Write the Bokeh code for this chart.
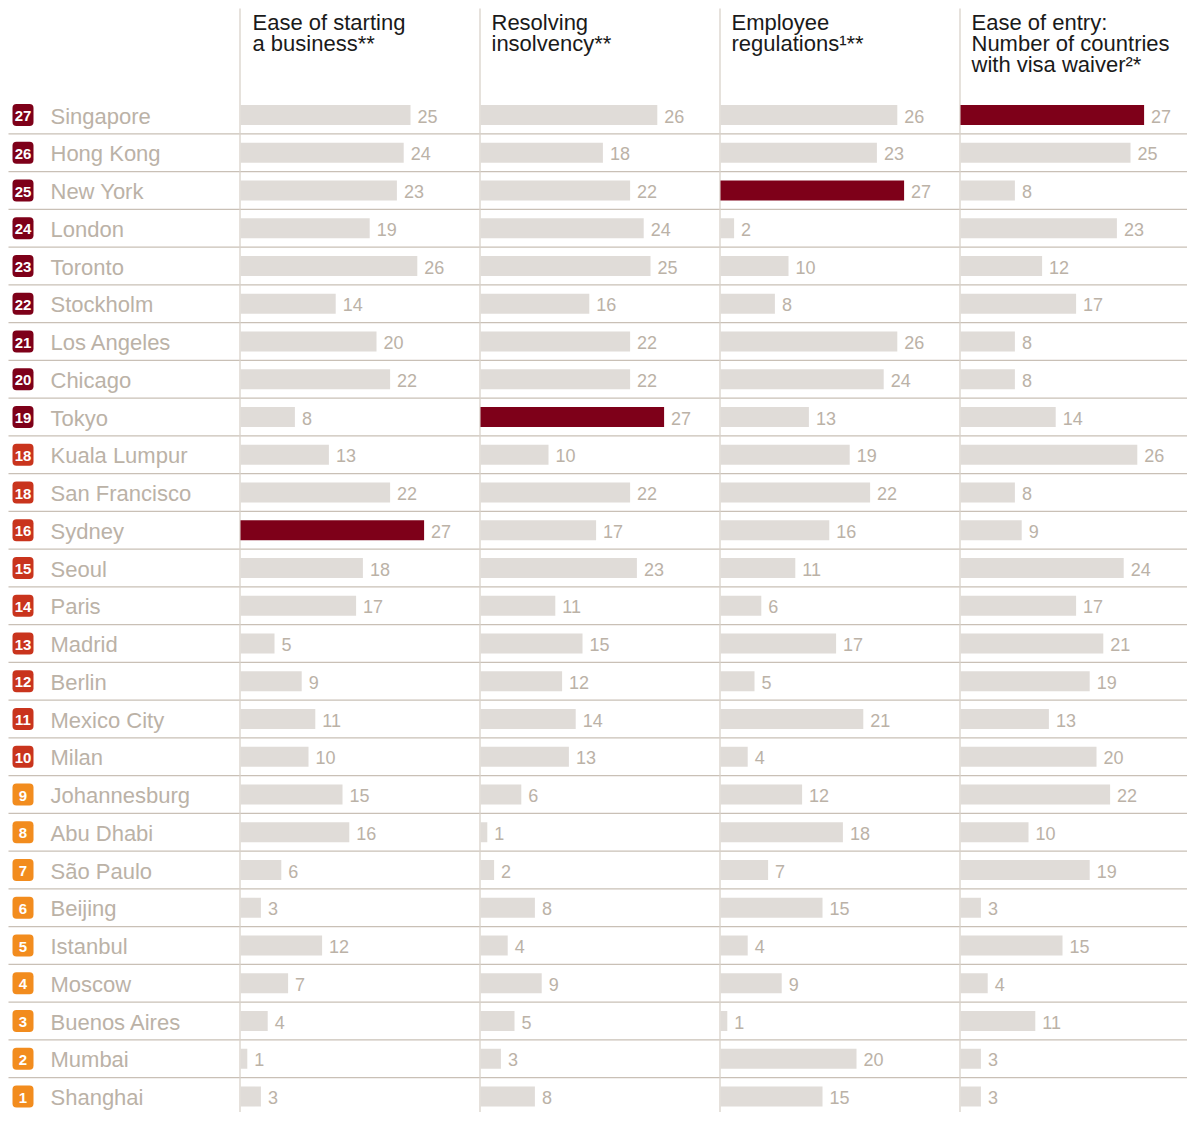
from bokeh.plotting import figure
from bokeh.models import Range1d, BoxAnnotation
from bokeh.embed import file_html
from bokeh.resources import INLINE
from bokeh.core.properties import value

cities = ["Singapore", "Hong Kong", "New York", "London", "Toronto", "Stockholm",
          "Los Angeles", "Chicago", "Tokyo", "Kuala Lumpur", "San Francisco", "Sydney",
          "Seoul", "Paris", "Madrid", "Berlin", "Mexico City", "Milan", "Johannesburg",
          "Abu Dhabi", "São Paulo", "Beijing", "Istanbul", "Moscow", "Buenos Aires",
          "Mumbai", "Shanghai"]
ranks = [27, 26, 25, 24, 23, 22, 21, 20, 19, 18, 18, 16, 15, 14, 13, 12, 11, 10,
         9, 8, 7, 6, 5, 4, 3, 2, 1]
starting_business = [25, 24, 23, 19, 26, 14, 20, 22, 8, 13, 22, 27, 18, 17, 5, 9, 11, 10,
                     15, 16, 6, 3, 12, 7, 4, 1, 3]
resolving_insolvency = [26, 18, 22, 24, 25, 16, 22, 22, 27, 10, 22, 17, 23, 11, 15, 12, 14, 13,
                        6, 1, 2, 8, 4, 9, 5, 3, 8]
employee_regulations = [26, 23, 27, 2, 10, 8, 26, 24, 13, 19, 22, 16, 11, 6, 17, 5, 21, 4,
                        12, 18, 7, 15, 4, 9, 1, 20, 15]
visa_waiver = [27, 25, 8, 23, 12, 17, 8, 8, 14, 26, 8, 9, 24, 17, 21, 19, 13, 20,
               22, 10, 19, 3, 15, 4, 11, 3, 3]
headers = [["Ease of starting", "a business**"],
           ["Resolving", "insolvency**"],
           ["Employee", "regulations\u00b9**"],
           ["Ease of entry:", "Number of countries", "with visa waiver\u00b2*"]]
series = [starting_business, resolving_insolvency, employee_regulations, visa_waiver]

# ---- layout / style ----
W, H = 1187, 1112
ROW0, ROW_H = 114.5, 37.75
COL0, COL_W, PX_PER = 240.0, 240.0, 6.8
FONT = value("Liberation Sans")
BAR = "#e0dcd8"
HIGHLIGHT = "#7e0019"
GRID_H = "#c9c0b6"
GRID_V = "#d9d2ca"
TXT = "#bbb2a7"


def badge_color(r):
    if r >= 19:
        return "#7e0019"
    if r >= 10:
        return "#c9341d"
    return "#f28c1e"


p = figure(width=W, height=H, x_range=Range1d(0, W), y_range=Range1d(H, 0),
           output_backend="svg", toolbar_location=None, min_border=0,
           x_axis_type=None, y_axis_type=None)
p.grid.visible = False
p.outline_line_color = None
p.background_fill_color = "white"

p.extra_y_ranges = {"rows": Range1d(start=(H - ROW0) / ROW_H, end=-ROW0 / ROW_H)}
p.extra_x_ranges = {}
for j in range(4):
    x0 = COL0 + j * COL_W
    p.extra_x_ranges[f"c{j}"] = Range1d(start=-x0 / PX_PER, end=(W - x0) / PX_PER)

n = len(cities)
rows = list(range(n))

# horizontal row separators
seps = [i + 0.5 for i in range(n - 1)]
p.segment(x0=[8] * len(seps), x1=[W] * len(seps), y0=seps, y1=seps,
          line_color=GRID_H, line_width=1.3, y_range_name="rows")

# vertical column separators
vx = [COL0 - 0.5 + j * COL_W for j in range(4)]
p.segment(x0=vx, x1=vx, y0=[8] * 4, y1=[H] * 4, line_color=GRID_V, line_width=1.3)

# bars + values
for j, vals in enumerate(series):
    mx = max(vals)
    cols = [HIGHLIGHT if v == mx else BAR for v in vals]
    p.hbar(y=rows, left=0, right=vals, height=20 / ROW_H, fill_color=cols,
           line_color=None, x_range_name=f"c{j}", y_range_name="rows")
    p.text(x=vals, y=rows, text=[str(v) for v in vals], x_offset=7, y_offset=1,
           text_baseline="middle", text_align="left", text_font=FONT,
           text_font_size="18px", text_color=TXT,
           x_range_name=f"c{j}", y_range_name="rows")
    # headers
    for k, line in enumerate(headers[j]):
        p.text(x=[COL0 + 12 + j * COL_W - (1 if j else 0)], y=[22 + 21 * k], text=[line],
               text_baseline="middle", text_align="left", text_font=FONT,
               text_font_size="22px", text_color="#1a1a1a")

# badges
for i, r in enumerate(ranks):
    p.add_layout(BoxAnnotation(left=12, right=33, top=i - 0.29, bottom=i + 0.29,
                               y_range_name="rows", fill_color=badge_color(r),
                               fill_alpha=1.0, line_color=None, border_radius=4,
                               level="underlay"))
p.text(x=[22.5] * n, y=rows, text=[str(r) for r in ranks], y_offset=1,
       text_align="center", text_baseline="middle", text_font=FONT,
       text_font_size="15px", text_font_style="bold", text_color="white",
       y_range_name="rows")

# city names
p.text(x=[50] * n, y=rows, text=cities, y_offset=1, text_align="left",
       text_baseline="middle", text_font=FONT, text_font_size="22px",
       text_color=TXT, y_range_name="rows")

open("out.html", "w").write(file_html(p, INLINE))
